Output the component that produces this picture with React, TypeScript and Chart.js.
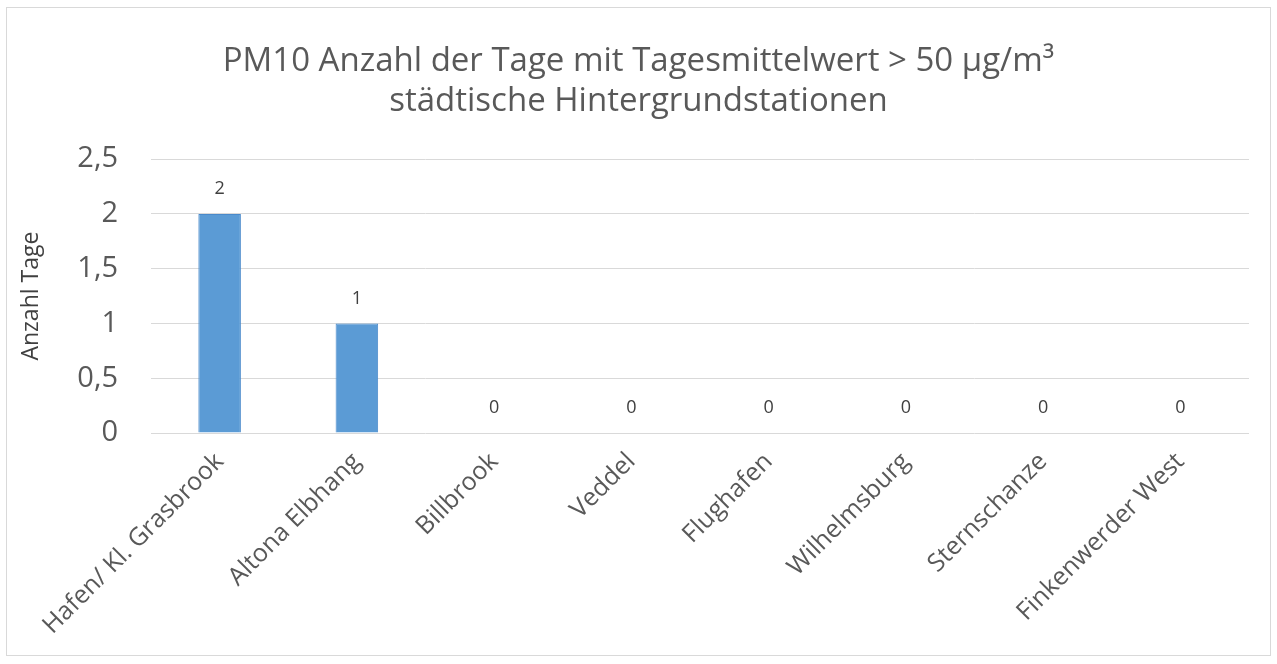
import React, { useEffect, useRef } from "react";
import { Chart, registerables } from "chart.js";

Chart.register(...registerables);

const titleLines = ["PM10 Anzahl der Tage mit Tagesmittelwert > 50 µg/m³", "städtische Hintergrundstationen"];
const stations = [
  "Hafen/ Kl. Grasbrook",
  "Altona Elbhang",
  "Billbrook",
  "Veddel",
  "Flughafen",
  "Wilhelmsburg",
  "Sternschanze",
  "Finkenwerder West",
];
const days = [2, 1, 0, 0, 0, 0, 0, 0];
const yAxisTitle = "Anzahl Tage";
const yMin = 0;
const yMax = 2.5;
const yStep = 0.5;

const FONT = "'Open Sans', 'DejaVu Sans', sans-serif";

const dataLabelPlugin = {
  id: "dataLabels",
  afterDatasetsDraw(chart: any) {
    const ctx = chart.ctx;
    const meta = chart.getDatasetMeta(0);
    const values = chart.data.datasets[0].data;
    ctx.save();
    ctx.font = `18px ${FONT}`;
    ctx.fillStyle = "#404040";
    ctx.textAlign = "center";
    ctx.textBaseline = "middle";
    meta.data.forEach((bar: any, i: number) => {
      ctx.fillText(String(values[i]).replace(".", ","), bar.x, bar.y - 25);
    });
    ctx.restore();
  },
};

export default function App() {
  const ref = useRef<HTMLCanvasElement | null>(null);
  useEffect(() => {
    if (!ref.current) return;
    const chart = new Chart(ref.current, {
      type: "bar",
      data: {
        labels: stations,
        datasets: [
          {
            data: days,
            backgroundColor: "#5B9BD5",
            borderColor: "#4A8ACB",
            borderWidth: 1,
            barPercentage: 0.31,
            categoryPercentage: 1,
          },
        ],
      },
      options: {
        responsive: false,
        animation: false,
        layout: { padding: { left: 28, right: 28, top: 0, bottom: 10 } },
        plugins: {
          legend: { display: false },
          tooltip: { enabled: false },
          title: {
            display: true,
            text: titleLines,
            color: "#595959",
            font: { family: FONT, size: 33, weight: "normal", lineHeight: 1.2 },
            padding: { top: 42, bottom: 38 },
          },
        },
        scales: {
          x: {
            grid: { display: false },
            border: { display: false },
            ticks: {
              color: "#595959",
              font: { family: FONT, size: 25 },
              maxRotation: 45,
              minRotation: 45,
              padding: 6,
            },
            afterFit(scale: any) {
              scale.height = 664 - 10 - 433;
            },
          },
          y: {
            min: yMin,
            max: yMax,
            border: { display: false },
            grid: { color: "#D9D9D9", drawTicks: false, lineWidth: 1 },
            ticks: {
              stepSize: yStep,
              color: "#595959",
              font: { family: FONT, size: 29 },
              padding: 33,
              callback: (v: any) => String(v).replace(".", ","),
            },
            title: {
              display: true,
              text: yAxisTitle,
              color: "#404040",
              font: { family: FONT, size: 23 },
              padding: { top: -10, bottom: 0 },
            },
            afterFit(scale: any) {
              scale.width = 151 - 28;
            },
          },
        },
      },
      plugins: [dataLabelPlugin],
    });
    return () => chart.destroy();
  }, []);

  return (
    <div style={{ position: "absolute", left: 0, top: 0, width: 1277, height: 664, background: "#fff" }}>
      <div
        style={{
          position: "absolute",
          left: 6,
          top: 7,
          width: 1263,
          height: 647,
          border: "1px solid #D9D9D9",
        }}
      />
      <canvas ref={ref} width={1277} height={664} style={{ position: "absolute", left: 0, top: 0 }} />
    </div>
  );
}
